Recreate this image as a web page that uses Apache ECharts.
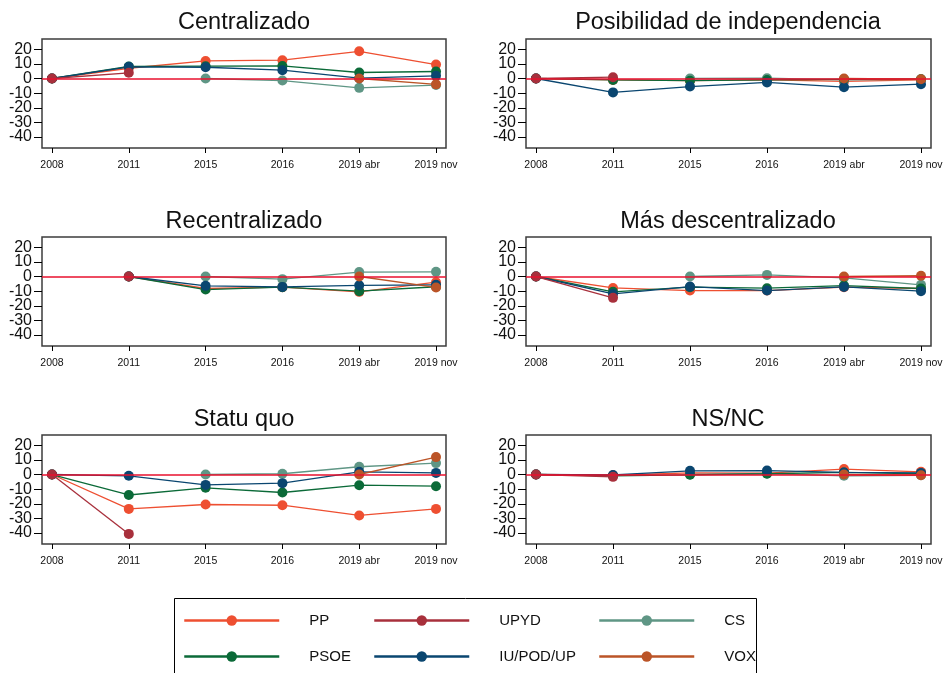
<!DOCTYPE html>
<html>
<head>
<meta charset="utf-8">
<script src="https://cdn.jsdelivr.net/npm/echarts@6/dist/echarts.min.js"></script>
<style>
  html, body { margin: 0; padding: 0; background: #fff; }
  #chart { width: 947px; height: 673px; }
</style>
</head>
<body>
<div id="chart"></div>
<script>
const years = ["2008", "2011", "2015", "2016", "2019 abr", "2019 nov"];
const panelTitles = ["Centralizado", "Posibilidad de independencia", "Recentralizado", "Más descentralizado", "Statu quo", "NS/NC"];
const yTicks = [-40, -30, -20, -10, 0, 10, 20];

// one row per panel, same order as panelTitles
const PP = [
  [0, 7, 12, 12.5, 18.6, 9.5],
  [0, -1, -1.5, -1, -2, -1],
  [null, 0, -8.2, -7.3, -10.5, -3.9],
  [0, -7.8, -9.6, -9.6, -7.3, -8.2],
  [0, -23.5, -20.5, -21, -28, -23.5],
  [0, -0.5, 1.1, 1, 3.7, 1.8]
];
const UPYD = [
  [0, 3.9, null, null, null, null],
  [0, 0.9, null, null, null, null],
  [null, 0, null, null, null, null],
  [0, -14.6, null, null, null, null],
  [0, -40.6, null, null, null, null],
  [0, -1.6, null, null, null, null]
];
const CS = [
  [null, null, 0, -1.4, -6.4, -4.5],
  [null, null, 0, 0.2, -1, -0.5],
  [null, null, 0, -1.8, 3, 3.2],
  [null, null, 0, 1.1, -0.9, -5.7],
  [null, null, 0, 0.5, 5.3, 7.8],
  [null, null, 0, 0.7, -0.9, -0.5]
];
const PSOE = [
  [0, 8.2, 8.4, 8.6, 4.1, 4.8],
  [0, -1, -1.5, -1, -0.5, -0.5],
  [null, 0, -8.9, -7.3, -10, -7],
  [0, -10.5, -7.3, -8, -6.2, -8.2],
  [0, -14, -9.1, -12.3, -7.3, -8],
  [0, -1, -0.2, 0.5, 1.4, 0.5]
];
const IU = [
  [0, 8, 7.7, 5.7, 0.2, 1.8],
  [0, -9.5, -5.5, -2.7, -5.9, -3.9],
  [null, 0, -6.4, -7.1, -6, -5.7],
  [0, -11.9, -6.9, -9.6, -7.1, -10],
  [0, -0.9, -7.1, -5.9, 1.8, 1.1],
  [0, -0.3, 2.5, 2.7, 1.4, 1.1]
];
const VOX = [
  [null, null, null, null, 0, -4],
  [null, null, null, null, 0, -0.5],
  [null, null, null, null, 0, -7.5],
  [null, null, null, null, 0, 0.5],
  [null, null, null, null, 0, 11.9],
  [null, null, null, null, 0, -0.5]
];

// drawing order (later ones on top)
const parties = [
  { name: "PP", data: PP, color: "#ee4f31" },
  { name: "CS", data: CS, color: "#5f9685" },
  { name: "PSOE", data: PSOE, color: "#0b6a38" },
  { name: "IU/POD/UP", data: IU, color: "#0a4670" },
  { name: "VOX", data: VOX, color: "#bb5427" },
  { name: "UPYD", data: UPYD, color: "#a8303c" }
];

// legend slots: name, left, top
const legendSlots = [
  ["PP", 183, 613], ["UPYD", 373, 613], ["CS", 598, 613],
  ["PSOE", 183, 649], ["IU/POD/UP", 373, 649], ["VOX", 598, 649]
];

const font = "Liberation Sans, Arial, sans-serif";
const leftX = [42, 526];
const tops = [39, 237, 435];
const yMin = -47.5, yMax = 27;
// padded with the axis ends, which get hidden (showMin/MaxLabel false),
// so echarts does not drop the real end labels for overlapping
const yMarks = [yMin, ...yTicks, yMax];

const grids = [], xAxes = [], yAxes = [], titles = [], series = [];

panelTitles.forEach((t, p) => {
  const col = p % 2, row = Math.floor(p / 2);
  grids.push({
    left: leftX[col], top: tops[row], width: col ? 405 : 404, height: 109,
    show: true, borderColor: "#3c3c3c", borderWidth: 1.5, backgroundColor: "#fff"
  });
  titles.push({
    text: t, left: leftX[col] + 202, top: tops[row] - 28 + (row ? 1 : 0),
    textAlign: "center", padding: 0,
    textStyle: { fontFamily: font, fontSize: 23.5, fontWeight: "normal", color: "#111" }
  });
  xAxes.push({
    type: "value", gridIndex: p, min: -0.13, max: 5.13,
    splitLine: { show: false }, axisLine: { show: false, onZero: false },
    axisTick: { show: true, length: 5, customValues: [0, 1, 2, 3, 4, 5], lineStyle: { color: "#000" } },
    axisLabel: {
      customValues: [0, 1, 2, 3, 4, 5], margin: 12, hideOverlap: false,
      showMinLabel: true, showMaxLabel: true,
      fontFamily: font, fontSize: 10.5, color: "#111",
      formatter: v => years[v]
    }
  });
  yAxes.push({
    type: "value", gridIndex: p, min: yMin, max: yMax,
    splitLine: { show: false }, axisLine: { show: false, onZero: false },
    axisTick: { show: true, length: 8, customValues: yMarks, lineStyle: { color: "#000" } },
    axisLabel: {
      customValues: yMarks, margin: 10, hideOverlap: false,
      showMinLabel: false, showMaxLabel: false,
      fontFamily: font, fontSize: 16, lineHeight: 11, color: "#111",
      formatter: v => (yTicks.includes(v) ? String(v) : "")
    }
  });
  parties.forEach((s, k) => {
    const pts = years.map((_, i) => [i, s.data[p][i]]).filter(d => d[1] !== null);
    const ser = {
      type: "line", name: s.name, xAxisIndex: p, yAxisIndex: p,
      data: pts, symbol: "circle", symbolSize: 10,
      color: s.color, lineStyle: { width: 1.3 }, animation: false
    };
    if (k === 0) {
      ser.markLine = {
        silent: true, symbol: "none", label: { show: false },
        lineStyle: { color: "#e8102e", width: 1.5, type: "solid" },
        data: [{ yAxis: 0 }]
      };
    }
    series.push(ser);
  });
});

const legends = legendSlots.map(([name, left, top]) => ({
  data: [name], left: left, top: top, padding: 0,
  itemWidth: 95, itemHeight: 13,
  lineStyle: { width: 2.5 },
  textStyle: { fontFamily: font, fontSize: 15, color: "#111", padding: [0, 0, 0, 25] }
}));

const chart = echarts.init(document.getElementById("chart"));
chart.setOption({
  animation: false,
  backgroundColor: "#fff",
  title: titles,
  grid: grids,
  xAxis: xAxes,
  yAxis: yAxes,
  series: series,
  legend: legends,
  graphic: [{
    type: "rect", left: 172, top: 596,
    shape: { width: 582, height: 100 },
    style: { fill: "none", stroke: "#000", lineWidth: 1 }
  }]
});
</script>
</body>
</html>
